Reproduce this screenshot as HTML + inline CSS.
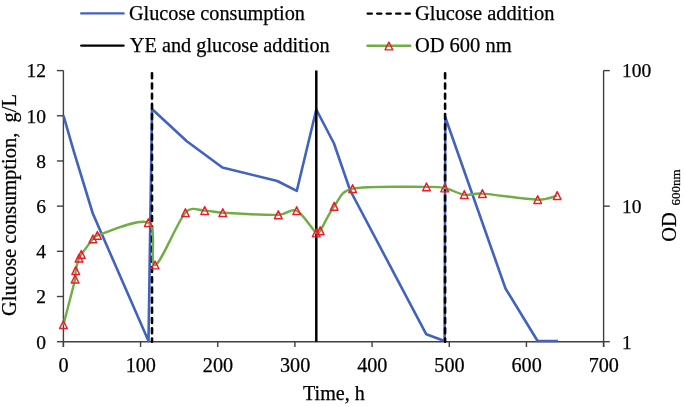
<!DOCTYPE html>
<html><head><meta charset="utf-8"><style>
html,body{margin:0;padding:0;background:#fff;}
svg{display:block;filter:blur(0.4px);}
text{font-family:"Liberation Serif",serif;font-size:20.5px;fill:#000;stroke:#000;stroke-width:0.25px;}
.tl{font-size:19.5px;}
.mk{fill:none;stroke:#ec1c2c;stroke-width:1.45;stroke-linejoin:round;}
</style></head><body>
<svg width="685" height="407" viewBox="0 0 685 407">
<line x1="63.4" y1="70.6" x2="63.4" y2="347.0" stroke="#404040" stroke-width="1.4"/>
<line x1="603.6" y1="70.6" x2="603.6" y2="347.0" stroke="#404040" stroke-width="1.4"/>
<line x1="63.4" y1="341.7" x2="603.6" y2="341.7" stroke="#404040" stroke-width="1.4"/>
<line x1="56.9" y1="341.70" x2="63.4" y2="341.70" stroke="#404040" stroke-width="1.4"/>
<text class="tl" x="46" y="348.50" text-anchor="end">0</text>
<line x1="56.9" y1="296.52" x2="63.4" y2="296.52" stroke="#404040" stroke-width="1.4"/>
<text class="tl" x="46" y="303.32" text-anchor="end">2</text>
<line x1="56.9" y1="251.33" x2="63.4" y2="251.33" stroke="#404040" stroke-width="1.4"/>
<text class="tl" x="46" y="258.13" text-anchor="end">4</text>
<line x1="56.9" y1="206.15" x2="63.4" y2="206.15" stroke="#404040" stroke-width="1.4"/>
<text class="tl" x="46" y="212.95" text-anchor="end">6</text>
<line x1="56.9" y1="160.97" x2="63.4" y2="160.97" stroke="#404040" stroke-width="1.4"/>
<text class="tl" x="46" y="167.77" text-anchor="end">8</text>
<line x1="56.9" y1="115.78" x2="63.4" y2="115.78" stroke="#404040" stroke-width="1.4"/>
<text class="tl" x="46" y="122.58" text-anchor="end">10</text>
<line x1="56.9" y1="70.60" x2="63.4" y2="70.60" stroke="#404040" stroke-width="1.4"/>
<text class="tl" x="46" y="77.40" text-anchor="end">12</text>
<line x1="63.40" y1="341.7" x2="63.40" y2="347.0" stroke="#404040" stroke-width="1.4"/>
<text class="tl" x="63.60" y="372.30" text-anchor="middle" style="font-size:20.2px">0</text>
<line x1="140.57" y1="341.7" x2="140.57" y2="347.0" stroke="#404040" stroke-width="1.4"/>
<text class="tl" x="140.77" y="372.30" text-anchor="middle" style="font-size:20.2px">100</text>
<line x1="217.74" y1="341.7" x2="217.74" y2="347.0" stroke="#404040" stroke-width="1.4"/>
<text class="tl" x="217.94" y="372.30" text-anchor="middle" style="font-size:20.2px">200</text>
<line x1="294.91" y1="341.7" x2="294.91" y2="347.0" stroke="#404040" stroke-width="1.4"/>
<text class="tl" x="295.11" y="372.30" text-anchor="middle" style="font-size:20.2px">300</text>
<line x1="372.09" y1="341.7" x2="372.09" y2="347.0" stroke="#404040" stroke-width="1.4"/>
<text class="tl" x="372.29" y="372.30" text-anchor="middle" style="font-size:20.2px">400</text>
<line x1="449.26" y1="341.7" x2="449.26" y2="347.0" stroke="#404040" stroke-width="1.4"/>
<text class="tl" x="449.46" y="372.30" text-anchor="middle" style="font-size:20.2px">500</text>
<line x1="526.43" y1="341.7" x2="526.43" y2="347.0" stroke="#404040" stroke-width="1.4"/>
<text class="tl" x="526.63" y="372.30" text-anchor="middle" style="font-size:20.2px">600</text>
<line x1="603.60" y1="341.7" x2="603.60" y2="347.0" stroke="#404040" stroke-width="1.4"/>
<text class="tl" x="603.80" y="372.30" text-anchor="middle" style="font-size:20.2px">700</text>
<line x1="603.6" y1="341.70" x2="609.8000000000001" y2="341.70" stroke="#404040" stroke-width="1.4"/>
<text class="tl" x="622" y="348.50">1</text>
<line x1="603.6" y1="206.15" x2="609.8000000000001" y2="206.15" stroke="#404040" stroke-width="1.4"/>
<text class="tl" x="622" y="212.95">10</text>
<line x1="603.6" y1="70.60" x2="609.8000000000001" y2="70.60" stroke="#404040" stroke-width="1.4"/>
<text class="tl" x="622" y="77.40">100</text>
<polyline fill="none" stroke="#4163BE" stroke-width="2.6" stroke-linejoin="round" points="63.5,115.7 73.5,150.3 92.8,213.5 148.5,341.0 152.0,109.0 186.8,141.2 222.4,167.5 277.3,181.0 296.8,190.8 316.3,109.5 334.0,143.5 350.0,190.0 426.3,334.3 444.6,341.0 445.3,117.3 505.5,288.5 537.6,341.0 558.0,341.0"/>
<line x1="152.0" y1="73.3" x2="152.0" y2="341.7" stroke="#000" stroke-width="2.6" stroke-linecap="round" stroke-dasharray="4.9 5.3"/>
<line x1="445.1" y1="73.3" x2="445.1" y2="341.7" stroke="#000" stroke-width="2.6" stroke-linecap="round" stroke-dasharray="4.9 5.3"/>
<line x1="316.3" y1="70.6" x2="316.3" y2="341.7" stroke="#000" stroke-width="2.5"/>
<path fill="none" stroke="#70AD47" stroke-width="2.4" d="M63.40,324.70 C65.35,317.12 73.05,288.22 75.10,279.20 C76.06,275.00 75.05,274.10 75.70,270.60 C76.35,267.10 78.07,260.90 79.00,258.20 C79.73,256.10 80.00,256.20 81.30,254.40 C83.62,251.18 90.22,242.07 92.90,238.90 C94.74,236.73 94.66,236.20 97.40,235.40 C106.63,232.70 138.68,217.77 148.30,222.70 C157.92,227.63 148.92,266.67 155.10,265.00 C161.28,263.33 177.13,221.77 185.40,212.70 C191.94,205.53 198.47,210.60 204.70,210.60 C210.93,210.60 213.70,212.18 222.80,212.70 C235.07,213.40 265.98,215.13 278.30,214.80 C287.72,214.55 290.38,207.67 296.70,210.70 C303.02,213.73 312.28,229.65 316.20,233.00 C317.93,234.48 318.92,232.69 320.20,230.80 C323.20,226.35 328.80,213.32 334.20,206.30 C339.60,199.28 340.14,191.32 352.60,188.70 C367.98,185.47 411.15,187.02 426.50,186.90 C435.62,186.83 438.40,186.70 444.70,188.00 C451.00,189.30 458.02,193.77 464.30,194.70 C470.58,195.63 473.35,192.98 482.40,193.60 C494.63,194.43 525.23,199.37 537.70,199.70 C547.66,199.97 553.95,196.28 557.20,195.60"/>
<path class="mk" d="M63.40,320.75 L67.25,328.55 L59.55,328.55Z"/>
<path class="mk" d="M75.10,275.25 L78.95,283.05 L71.25,283.05Z"/>
<path class="mk" d="M75.70,266.65 L79.55,274.45 L71.85,274.45Z"/>
<path class="mk" d="M79.00,254.25 L82.85,262.05 L75.15,262.05Z"/>
<path class="mk" d="M81.30,250.45 L85.15,258.25 L77.45,258.25Z"/>
<path class="mk" d="M92.90,234.95 L96.75,242.75 L89.05,242.75Z"/>
<path class="mk" d="M97.40,231.45 L101.25,239.25 L93.55,239.25Z"/>
<path class="mk" d="M148.30,218.75 L152.15,226.55 L144.45,226.55Z"/>
<path class="mk" d="M155.10,261.05 L158.95,268.85 L151.25,268.85Z"/>
<path class="mk" d="M185.40,208.75 L189.25,216.55 L181.55,216.55Z"/>
<path class="mk" d="M204.70,206.65 L208.55,214.45 L200.85,214.45Z"/>
<path class="mk" d="M222.80,208.75 L226.65,216.55 L218.95,216.55Z"/>
<path class="mk" d="M278.30,210.85 L282.15,218.65 L274.45,218.65Z"/>
<path class="mk" d="M296.70,206.75 L300.55,214.55 L292.85,214.55Z"/>
<path class="mk" d="M316.20,229.05 L320.05,236.85 L312.35,236.85Z"/>
<path class="mk" d="M320.20,226.85 L324.05,234.65 L316.35,234.65Z"/>
<path class="mk" d="M334.20,202.35 L338.05,210.15 L330.35,210.15Z"/>
<path class="mk" d="M352.60,184.75 L356.45,192.55 L348.75,192.55Z"/>
<path class="mk" d="M426.50,182.95 L430.35,190.75 L422.65,190.75Z"/>
<path class="mk" d="M444.70,184.05 L448.55,191.85 L440.85,191.85Z"/>
<path class="mk" d="M464.30,190.75 L468.15,198.55 L460.45,198.55Z"/>
<path class="mk" d="M482.40,189.65 L486.25,197.45 L478.55,197.45Z"/>
<path class="mk" d="M537.70,195.75 L541.55,203.55 L533.85,203.55Z"/>
<path class="mk" d="M557.20,191.65 L561.05,199.45 L553.35,199.45Z"/>
<line x1="81.3" y1="13.4" x2="123.5" y2="13.4" stroke="#4163BE" stroke-width="2.4" stroke-linecap="round"/>
<text x="128.9" y="19.8" style="font-size:20.25px">Glucose consumption</text>
<line x1="81.3" y1="45.6" x2="123.5" y2="45.6" stroke="#000" stroke-width="2.4" stroke-linecap="round"/>
<text x="129.8" y="52.1" style="font-size:20.3px">YE and glucose addition</text>
<line x1="367.7" y1="13.6" x2="411" y2="13.6" stroke="#000" stroke-width="2.4" stroke-linecap="round" stroke-dasharray="4.1 5.4"/>
<text x="414.9" y="19.8">Glucose addition</text>
<line x1="367.5" y1="45.7" x2="410.2" y2="45.7" stroke="#70AD47" stroke-width="2.4" stroke-linecap="round"/>
<path class="mk" d="M388.90,42.05 L392.75,49.85 L385.05,49.85Z"/>
<text x="414.9" y="51.8">OD 600 nm</text>
<text x="303.0" y="400.2" style="font-size:20.1px">Time, h</text>
<text transform="translate(16.2,316.0) rotate(-90)" style="font-size:20.5px;white-space:pre">Glucose consumption,  g/L</text>
<text transform="translate(675.5,241.8) rotate(-90)">OD</text>
<text transform="translate(680.2,205.5) rotate(-90)" style="font-size:13px">600nm</text>
</svg>
</body></html>
